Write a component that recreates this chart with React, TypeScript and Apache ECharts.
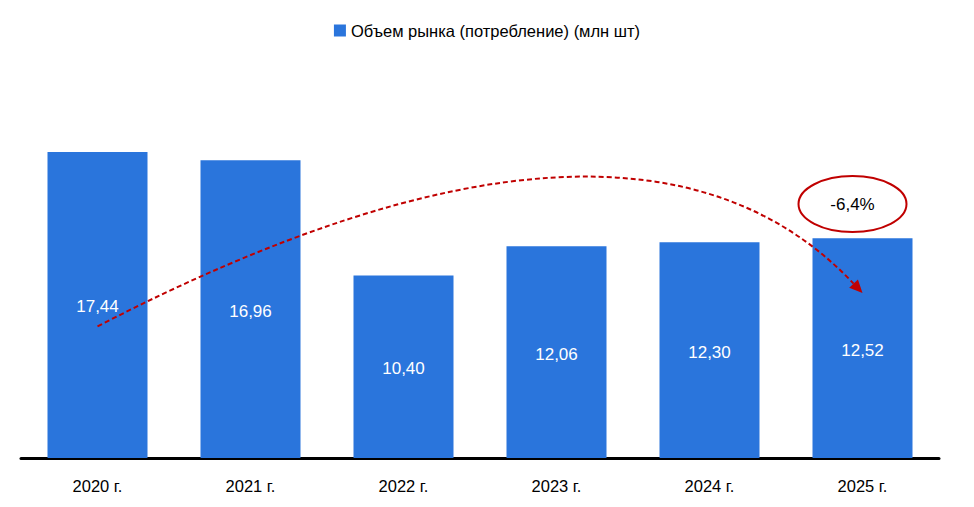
import { useEffect, useRef } from 'react';
import * as echarts from 'echarts';

const years = ['2020 г.', '2021 г.', '2022 г.', '2023 г.', '2024 г.', '2025 г.'];
const volume = [17.44, 16.96, 10.4, 12.06, 12.3, 12.52];
const seriesName = 'Объем рынка (потребление) (млн шт)';
const changeText = '-6,4%';

const FONT = '"Liberation Sans", Arial, sans-serif';
const RED = '#C00000';

const App = () => {
    const chartRef = useRef<HTMLDivElement>(null);

    useEffect(() => {
        document.body.style.margin = '0';
        if (!chartRef.current) return;
        const chart = echarts.init(chartRef.current, undefined, { renderer: 'svg' });

        chart.setOption({
            animation: false,
            backgroundColor: '#fff',
            textStyle: { fontFamily: FONT },
            legend: {
                top: 17,
                left: 'center',
                itemWidth: 12,
                itemHeight: 12,
                itemGap: 6,
                icon: 'rect',
                textStyle: { fontSize: 16.5, color: '#000', fontFamily: FONT },
                data: [seriesName]
            },
            grid: { left: 21, width: 918, top: 107, height: 351 },
            xAxis: {
                type: 'category',
                data: years,
                axisTick: { show: false },
                axisLine: { lineStyle: { color: '#000', width: 3 } },
                axisLabel: { color: '#000', fontSize: 16.5, margin: 19, fontFamily: FONT }
            },
            yAxis: { type: 'value', min: 0, max: 20, show: false, splitLine: { show: false } },
            series: [
                {
                    name: seriesName,
                    type: 'bar',
                    data: volume,
                    barWidth: 100,
                    itemStyle: { color: '#2A75DC' },
                    label: {
                        show: true,
                        position: 'inside',
                        offset: [0, 2],
                        color: '#fff',
                        fontSize: 17,
                        fontFamily: FONT,
                        formatter: (p: any) => p.value.toFixed(2).replace('.', ',')
                    }
                }
            ]
        });

        // trend arrow: quadratic curve from the first bar to the last one
        const p0 = chart.convertToPixel({ gridIndex: 0 }, [0, 7.5]) as number[];
        const p2 = chart.convertToPixel({ gridIndex: 0 }, [5, 9.4]) as number[];
        const mid = chart.convertToPixel({ gridIndex: 0 }, [2.65, 15.85]) as number[];
        const cx = 2 * mid[0] - (p0[0] + p2[0]) / 2;
        const cy = 2 * mid[1] - (p0[1] + p2[1]) / 2;
        const dx = p2[0] - cx;
        const dy = p2[1] - cy;
        const len = Math.sqrt(dx * dx + dy * dy);
        const ux = dx / len;
        const uy = dy / len;
        const headLen = 13;
        const headW = 6;
        const bx = p2[0] - ux * headLen;
        const by = p2[1] - uy * headLen;

        const ell = chart.convertToPixel({ gridIndex: 0 }, [5, 14.47]) as number[];
        const ex = ell[0] - 10;

        chart.setOption({
            graphic: [
                {
                    type: 'bezierCurve',
                    shape: { x1: p0[0], y1: p0[1], cpx1: cx, cpy1: cy, x2: bx, y2: by },
                    style: { stroke: RED, lineWidth: 2, lineDash: [5, 3], fill: null },
                    z: 100
                },
                {
                    type: 'polygon',
                    shape: {
                        points: [
                            [p2[0], p2[1]],
                            [bx - uy * headW, by + ux * headW],
                            [bx + uy * headW, by - ux * headW]
                        ]
                    },
                    style: { fill: RED },
                    z: 100
                },
                {
                    type: 'ellipse',
                    shape: { cx: ex, cy: ell[1], rx: 54, ry: 28 },
                    style: { stroke: RED, lineWidth: 2, fill: '#fff' },
                    z: 100
                },
                {
                    type: 'text',
                    x: ex,
                    y: ell[1],
                    style: {
                        text: changeText,
                        fontSize: 17,
                        fontFamily: FONT,
                        fill: '#000',
                        align: 'center',
                        verticalAlign: 'middle'
                    },
                    z: 101
                }
            ]
        });

        return () => chart.dispose();
    }, []);

    return <div ref={chartRef} style={{ width: 974, height: 507 }} />;
};

export default App;
